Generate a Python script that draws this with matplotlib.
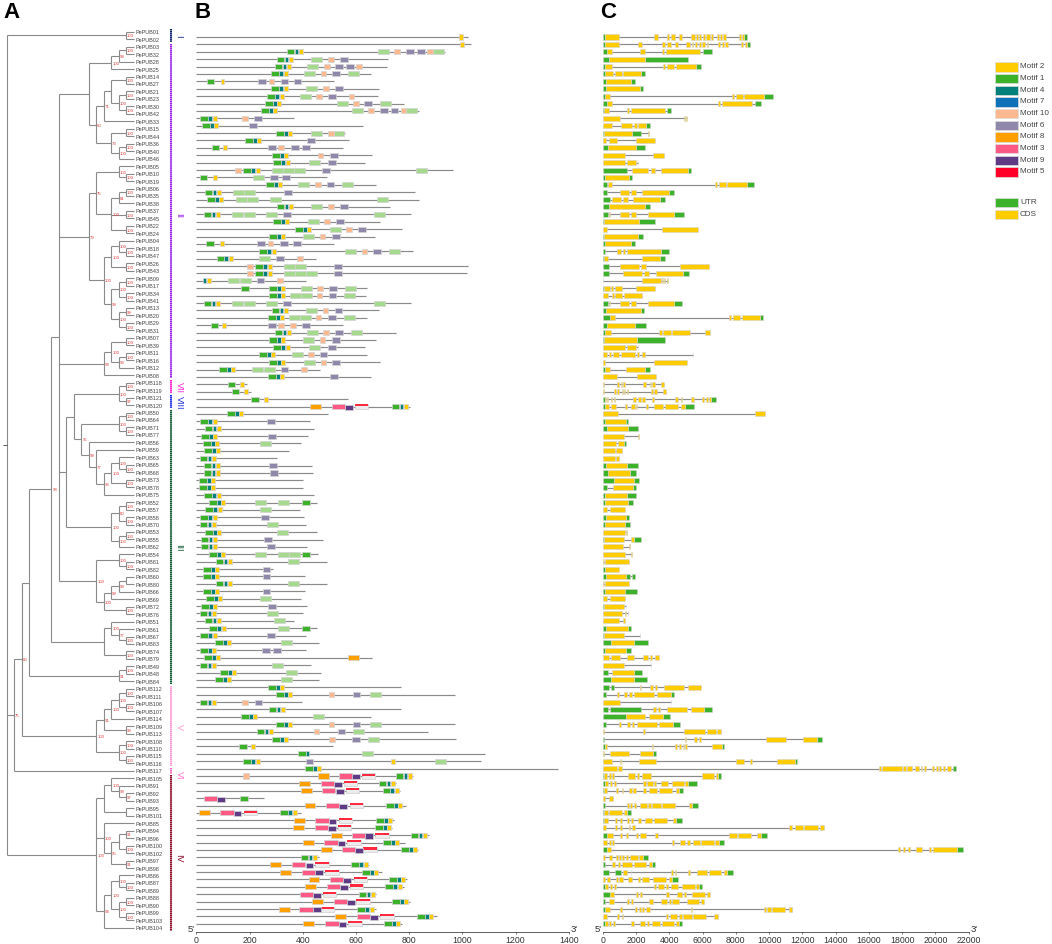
import matplotlib
matplotlib.use("Agg")
import matplotlib.pyplot as plt
import numpy as np

plt.rcParams['font.family'] = ['Liberation Sans', 'DejaVu Sans']

W, H = 1052, 945

# gene order, top to bottom
gene_ids = [1, 2, 3, 32, 28, 25, 14, 27, 21, 23, 30, 42, 33, 15, 44, 36, 40, 46, 5, 10, 19, 6, 35, 38, 37, 45, 22, 24, 4, 18,
            47, 26, 43, 9, 17, 34, 41, 13, 20, 29, 31, 7, 39, 11, 16, 12, 8, 118, 119, 121, 120, 50, 64, 71, 77, 56, 59, 63, 65, 68,
            73, 78, 75, 52, 57, 58, 70, 53, 55, 62, 54, 81, 82, 60, 80, 66, 69, 72, 76, 51, 61, 67, 83, 74, 79, 49, 48, 84, 112, 111,
            106, 107, 114, 109, 113, 108, 110, 115, 116, 117, 105, 91, 92, 93, 95, 101, 85, 94, 96, 100, 102, 97, 98, 86, 87, 89, 88, 90, 99, 103, 104]

# tree as (depth, support, children...), a plain int is a leaf
tree = (0, '',
        (16, '100', 1, 2),
        (1, '75',
         (2, '80',
          (3, '',
           (6, '98',
            (7, '',
             (11, '',
              (14, '100', (15, '99', (16, '100', 3, 32), 28), 25),
              (12, '60',
               (13, '71', (14, '', (16, '100', 14, 27), (15, '100', (16, '100', 21, 23), (16, '100', 30, 42))), 33),
               (14, '73', (16, '100', 15, 44), (15, '100', (16, '100', 36, 40), 46)))),
             (11, '79',
              (12, '75',
               (15, '100', 5, (16, '100', 10, 19)),
               (14, '100', (15, '81', (16, '100', 6, 35), 38), (16, '100', 37, 45), (16, '100', 22, 24))),
              (13, '100',
               (14, '100', (15, '100', 4, (16, '100', 18, 47)), (16, '100', 26, 43)),
               (14, '99', (15, '100', (16, '100', 9, 17), (16, '100', 34, 41)), (15, '100', (16, '99', 13, 20), (16, '100', 29, 31))))),
             (13, '98', (14, '100', (16, '100', 7, 39), (15, '93', (16, '100', 11, 16), 12)), 8),
             (8, '',
              (9, '',
               (15, '100', (16, '100', 118, 119), (16, '97', 121, 120)),
               (10, '95',
                (15, '100', (16, '100', 50, 64), (16, '100', 71, 77)),
                (11, '99', 56,
                 (12, '77', 59,
                  (13, '93', (14, '100', (15, '100', 63, (16, '100', 65, 68)), (16, '100', 73, 78)), 75))))),
              (14, '100', (15, '80', (16, '100', 52, 57), (16, '100', 58, 70)), (15, '100', (16, '100', 53, 55), 62))),
             (12, '100',
              (15, '100', 54, (16, '100', 81, 82)),
              (13, '100', (14, '99', (15, '99', (16, '', 60, 80), 66), 69), (16, '100', 72, 76)))),
            (13, '', (14, '100', 51, (15, '77', 61, (16, '100', 67, 83))), (16, '100', 74, 79))),
           (15, '91', (16, '100', 49, 48), 84)),
          (12, '100',
           (13, '91', (14, '100', (15, '100', (16, '100', 112, 111), (16, '100', 106, 107)), 114), (16, '99', 109, 113)),
           (15, '100', (16, '100', 108, 110), (16, '100', 115, 116)))),
         117),
        (12, '100',
         (13, '', (14, '100', 105, (15, '99', 91, (16, '97', 92, 93))), (16, '', 95, 101)),
         (13, '100', 85, (14, '95', (15, '', (16, '91', 94, 96), (16, '100', 100, 102)), (16, '91', 97, 98))),
         (13, '94', (14, '100', (15, '100', 86, (16, '100', 87, 89)), (15, '100', (16, '100', 88, 90), (16, '100', 99, 103))), 104)))

# subfamily bars: name, first row, last row, colour
clade_names = ['I', 'II', 'VII', 'VIII', 'III', 'V', 'VI', 'IV']
clade_first = [0, 2, 47, 49, 51, 88, 99, 100]
clade_last = [1, 46, 48, 50, 87, 98, 99, 120]
clade_colors = ['#0b1f6b', '#9a22e6', '#ff22d0', '#1f2fe8', '#0b5a32', '#ff9ad8', '#ff70c8', '#8c0a22']
clade_label_rows = [0.5, 24.5, 47.5, 49.5, 69, 93, 99.5, 110.5]

# panel B, protein length in aa
protein_len = [1020, 1034, 936, 722, 716, 657, 518, 685, 682, 782, 836, 367, 628, 558, 573, 551, 662, 633, 964, 490,
               677, 823, 836, 729, 809, 690, 775, 670, 516, 815, 449, 1020, 1019, 412, 640, 639, 809, 685, 640, 553,
               749, 675, 633, 642, 690, 464, 657, 192, 207, 571, 805, 495, 429, 443, 421, 393, 348, 305, 436, 439,
               403, 403, 443, 453, 389, 406, 413, 453, 475, 416, 459, 492, 288, 409, 492, 409, 392, 418, 401, 368,
               453, 413, 461, 412, 661, 433, 470, 461, 768, 972, 399, 771, 656, 972, 871, 978, 515, 1086, 1069, 1360,
               813, 751, 767, 254, 790, 392, 743, 734, 875, 784, 835, 463, 650, 699, 791, 780, 676, 804, 676, 905, 775]

# motif starts per gene: B = motif 1 + 4 + 2 run, g 1, t 4, y 2, l pale green, p 10, v 6, o 8, r 3, u 9, w 5
motif_hits = [
    'y987', 'y990', 'B340 l684 p745 v789 v829 p868 l889', 'B302 l432 p495 v540', 'B295 l418 p480 v523 v563 p601',
    'B282 l406 p467 v511 l570', 'g39 y91 v233 p272 v317 v366', 'B282 l412 p476 v521', 'B267 l391 p451 v495 p573',
    'B258 l528 p590 v632 l691', 'B243 l586 p646 v691 v731 p769 l790', 'B15 p173 v217', 'B22 v198', 'B300 l432 p495 l516',
    'B184 v416', 'g58 y101 v269 p309 v356 v399', 'B284 p457 v502', 'B290 l423 v495',
    'p146 B177 l284 l327 l369 v473 l825', 'g13 y63 l213 v278 v322', 'B262 l384 p446 v490 l548',
    'B31 l139 l180 v329', 'B41 l149 l192 l277 l681', 'B302 l432 p495 v540', 'B28 l136 l178 l262 v327 l669',
    'B288 l419 p481 v526', 'B371 l502 p563 v608', 'B273 l402 p464 v510', 'g38 y90 v230 p268 v314 v363',
    'B237 l560 p622 v665 l724', 'B76 l237 v300 p379', 'p192 B222 l329 l371 v517', 'p192 B222 l329 l371 l414 v517',
    't24 y41 l121 l163 v227 p305', 'g169 B274 l394 p454 v500 l558', 'B274 l352 l393 p453 v498 l556',
    'B28 l136 l178 l262 v327 l669', 'B283 l412 p475 v520', 'B269 l349 l391 p449 v495 l555',
    'g54 y98 v269 p309 p352 v399', 'B295 l417 p477 v521 l581', 'B273 l402 p464 v511', 'B290 l423 v495',
    'B235 l361 p421 v464', 'B273 l404 p468 v512', 'B85 l210 l253 v317 p394', 'B269 v502', 'g118 y164', 'g133 y179',
    'g207 y253', 'o428 r510 u560 w597 B734', 'B116', 'B15 v267', 'B31', 'B18 v269', 'B26 l239', 'B29', 'B13',
    'B28 v273', 'B28 v277', 'B10', 'B10', 'B30', 'B48 l220 l307 g399', 'B34 l238', 'B15 v243', 'B13 l267', 'B33 l303',
    'B16 v254', 'B16 v267', 'B48 l220 l307 l349 g399', 'B73 l344', 'B25 v249', 'B25 v249', 'B73 l344', 'B25 v249',
    'B36 l239', 'B18 v269', 'B13 l267', 'B31 l293', 'B49 l308 g399', 'B15 v267', 'B71 l319', 'B14 v248 v290',
    'B29 o570', 'B13 l284', 'B90 l337', 'B71 l319', 'B269', 'B299 p498 v588 l652', 'B13 p173 v219', 'B272',
    'B169 l439', 'B299 p498 v588 l652', 'B227 p442 v531 l590', 'B284 p499 v587 l645', 'g160 y207', 'g382 t411 l623',
    'B177 v411 y731 l898', 'B409', 'p177 o456 r536 u586 w623 B749', 'o386 r467 u517 w555 B686', 'o393 r473 u525 w561 B700',
    'r28 u78 g164', 'o407 r488 u538 w576 B714', 'o10 r90 u140 w178 B316', 'o367 r447 u497 w536 B675',
    'o364 r446 u495 w533 B672', 'o505 r585 u635 w673 B806', 'o401 r481 u531 w568 B702', 'o468 r547 u597 w628 B769',
    'B392', 'o277 r358 u411 w447 B583', 'o314 r396 u446 w485 B623', 'o422 r502 u552 w591 B725', 'o409 r491 u540 w578 B711',
    'r389 u438 w477 B610', 'o434 r516 u566 w602 B736', 'o310 r387 u438 w468 B606', 'o523 r603 u653 w692 B830',
    'o403 r485 u535 w572 B705']

# panel C, exon and UTR segments in bp as flat start, end pairs
gene_utr = [
    [0, 140, 8500, 8660], [0, 120, 8660, 8880], [0, 260, 6020, 6540], [0, 400, 2540, 5120], [0, 120, 5600, 5900],
    [0, 140, 2300, 2520], [0, 180, 1700, 1960], [0, 200, 2240, 2440], [0, 120, 9700, 10240], [0, 240, 9160, 9540],
    [0, 80, 3860, 4120], [], [2600, 2820], [0, 80, 1760, 2300], [], [0, 340, 1980, 2520], [], [], [0, 1440, 5140, 5320],
    [0, 140, 1560, 1780], [0, 260, 8680, 9120], [0, 260, 4000, 4260], [0, 460, 3440, 3740], [0, 360, 2540, 2860],
    [0, 300, 4300, 4900], [0, 100, 2160, 3160], [], [0, 100, 2100, 2400], [0, 160, 1680, 1940], [0, 160, 3480, 4000],
    [0, 60, 3440, 3720], [0, 380], [0, 400, 4840, 5160], [], [0, 100], [], [0, 300, 4300, 4740], [0, 200, 2300, 2460],
    [0, 440, 9440, 9620], [0, 260, 1920, 2620], [0, 140], [0, 80, 2080, 3740], [], [], [], [0, 160, 2540, 2820], [], [], [],
    [0, 140, 6480, 6840], [0, 140, 4920, 5460], [], [0, 160, 1400, 1540], [0, 240, 1540, 2140], [], [1300, 1420], [], [],
    [0, 200, 1480, 2100], [0, 320, 1620, 1980], [0, 660, 1860, 2160], [0, 280, 1820, 2000], [0, 140, 1440, 2020],
    [0, 160, 1520, 1800], [], [0, 180, 1400, 1600], [0, 140, 1360, 1640], [], [0, 60, 1900, 2280], [], [], [], [0, 140],
    [0, 180, 1400, 1620, 1740, 1940], [], [0, 140, 1360, 2060], [], [0, 60], [], [], [0, 180, 1520, 1680], [0, 100],
    [0, 520, 1900, 2720], [0, 160, 1380, 1720], [], [], [0, 320, 1880, 2380], [0, 520, 1900, 2640], [0, 400, 520, 700],
    [0, 180, 4100, 4280], [], [0, 320, 440, 2300, 6080, 6580], [0, 1380, 3600, 4040], [0, 180, 4220, 4620], [],
    [0, 100, 12900, 13180], [0, 120, 7160, 7320], [3000, 3200], [11560, 11700], [21080, 21260], [0, 80, 6920, 7140],
    [0, 160, 5100, 5660], [0, 60, 4600, 4840], [], [0, 120, 5380, 5700], [0, 80, 1480, 1720], [0, 80, 4400, 4780], [],
    [0, 240, 9500, 9880], [7000, 7280], [0, 240, 21300, 21660], [2420, 2740], [0, 140, 2980, 3120],
    [0, 360, 720, 1080, 7480, 7840], [4180, 4540], [0, 160, 5760, 5940], [0, 460], [0, 120], [0, 160, 11360, 11400], [],
    [0, 160, 4560, 4760]]

gene_cds = [
    [140, 1000, 3080, 3300, 3840, 4000, 4100, 4360, 4580, 4760, 5320, 5540, 5600, 5740, 5800, 5900, 6020, 6140, 6200, 6440, 6520, 6640, 6860, 7000, 7080, 7200, 7260, 7440, 8200, 8300, 8380, 8500],
    [120, 960, 2140, 2340, 3560, 3720, 3840, 4080, 4340, 4520, 5020, 5240, 5360, 5440, 5540, 5660, 5780, 5900, 5960, 6120, 6240, 6340, 6960, 7080, 7200, 7300, 7380, 7520, 8300, 8420, 8540, 8660],
    [260, 580, 2240, 2520, 3580, 3680, 3820, 5860], [400, 2540], [120, 540, 3640, 3740, 3880, 4280, 4400, 5600],
    [140, 640, 760, 1140, 1240, 2300], [180, 1700], [200, 2240], [120, 420, 7780, 7880, 8000, 8440, 8520, 9700],
    [240, 560, 6940, 7060, 7180, 9000], [80, 380, 1460, 1580, 1720, 3740], [0, 1020, 4880, 4940, 5000, 5060],
    [0, 540, 1080, 1780, 1900, 2060, 2140, 2600], [80, 1760, 2740, 2760], [0, 180, 400, 840, 1980, 3120], [340, 1980],
    [0, 1320, 3000, 3660], [0, 1360, 1480, 1980, 2100, 2140], [1760, 2720, 2880, 3160, 3520, 5140], [140, 1560],
    [300, 560, 6780, 6880, 7000, 7400, 7500, 8680], [1060, 1580, 1700, 1980, 2380, 4000], [580, 1100, 1220, 1520, 1800, 3440],
    [360, 2540], [400, 440, 1040, 1580, 1680, 1980, 2700, 4300], [100, 2160], [0, 240, 3580, 5700], [100, 2100], [160, 1680],
    [840, 1120, 1240, 1360, 1460, 3480], [60, 320, 2380, 3440], [1040, 2180, 2320, 2620, 4660, 6360],
    [1220, 2340, 2500, 2800, 3220, 4840], [0, 40, 2380, 3480, 3560, 3620, 3700, 3760, 3860, 3920],
    [100, 440, 500, 620, 720, 1160, 2020, 3120], [0, 320, 580, 680, 760, 1180, 1280, 2340],
    [400, 440, 1060, 1580, 1700, 1980, 2720, 4300], [200, 2300], [440, 720, 7620, 7720, 7840, 8240, 8360, 9440], [260, 1920],
    [140, 520, 3400, 3540, 3640, 4080, 4160, 5240, 6160, 6440], [80, 2080], [0, 1360, 1460, 1980, 2100, 2140],
    [0, 240, 400, 500, 620, 1000, 1100, 1940, 2040, 2180, 2380, 2560, 5400, 5440], [0, 140, 3080, 5040], [160, 460, 1420, 2540],
    [0, 880, 2060, 3180], [0, 60, 880, 980, 1120, 1180, 1240, 1320, 2440, 2580, 2840, 2900, 2980, 3120, 3520, 3660],
    [0, 60, 700, 800, 880, 980, 1140, 1200, 1260, 1340, 1480, 1540, 2920, 3020, 3100, 3240, 3640, 3780],
    [140, 200, 260, 340, 480, 540, 680, 760, 1840, 1980, 2140, 2300, 2380, 2520, 2940, 3080, 4320, 4540, 4700, 4780, 5280, 5500, 5980, 6080, 6180, 6300, 6400, 6480],
    [140, 380, 480, 780, 1340, 1440, 1680, 1940, 1980, 2060, 2580, 2700, 3080, 3600, 3760, 4520, 4720, 4920], [0, 900, 9160, 9780],
    [160, 1400], [240, 1540], [0, 1260, 2140, 2180], [0, 780, 900, 1300], [0, 740, 800, 1140], [0, 740, 800, 1000], [200, 1480],
    [320, 1620], [660, 1860], [600, 1820], [140, 1440], [160, 1520], [0, 280, 440, 1340], [180, 1400], [140, 1360],
    [0, 1340, 1400, 1440], [60, 1280, 1720, 1900], [0, 1220, 1580, 1620], [0, 1320, 1680, 1740], [0, 60, 140, 1560], [140, 1000],
    [180, 1400], [0, 60, 140, 1560], [140, 1360], [0, 280, 440, 1340], [60, 1280, 1380, 1420], [0, 1140, 1340, 1380, 1500, 1540],
    [0, 1000, 1220, 1360], [180, 1520], [100, 1300, 2220, 2260], [520, 1900], [160, 1380],
    [0, 360, 480, 1020, 1480, 1900, 2440, 2720, 2840, 2940, 3160, 3400], [0, 1260, 2880, 2920], [560, 1880], [520, 1900],
    [2240, 2290, 2840, 3040, 3140, 3260, 3700, 4900, 5140, 5900], [880, 960, 1280, 1480, 1600, 1760, 1900, 3100, 3240, 4100],
    [0, 1060, 4080, 4120], [3040, 3220, 3300, 3420, 3880, 5060, 5320, 6080], [1380, 2560, 2800, 3600],
    [1000, 1100, 1440, 1620, 1740, 1900, 2080, 3260, 3400, 4220], [0, 60, 2440, 2560, 4900, 6140, 6280, 6820, 6900, 7120],
    [4940, 4980, 5460, 5660, 5780, 5900, 9840, 11040, 12060, 12900],
    [120, 240, 2940, 3020, 4340, 4460, 4560, 4700, 4820, 4900, 4960, 5080, 6560, 7160], [0, 60, 420, 1580, 2240, 3000],
    [0, 540, 1040, 1120, 2180, 3200, 8040, 8520, 8880, 8960, 10480, 11560],
    [0, 840, 940, 1180, 16600, 16700, 16800, 18000, 18080, 18240, 18320, 18580, 18760, 19040, 19120, 19200, 19300, 19440, 19780, 19920, 20020, 20160, 20240, 20360, 20480, 20600, 20720, 20960],
    [80, 240, 360, 480, 560, 680, 1520, 1940, 2080, 2200, 2360, 2900, 5960, 6680, 6800, 6920],
    [160, 320, 440, 560, 660, 800, 2440, 2580, 2680, 3000, 3100, 3220, 3520, 3900, 4140, 4900, 4940, 5100],
    [60, 280, 800, 940, 1140, 1240, 1580, 1740, 1840, 2020, 2420, 2580, 2780, 3240, 3380, 4140, 4420, 4600], [0, 120, 400, 640],
    [1480, 1580, 1640, 1740, 1880, 1980, 2220, 2640, 2720, 2880, 2940, 3480, 3560, 4340, 5180, 5380], [80, 300, 400, 1160, 1280, 1480],
    [80, 300, 720, 860, 1040, 1180, 1440, 1560, 1680, 1800, 2140, 2280, 2520, 2980, 3100, 3880, 4200, 4400],
    [0, 180, 720, 860, 1060, 1180, 1600, 1640, 1760, 1940, 11200, 11360, 11540, 12020, 12120, 12920, 13060, 13280],
    [240, 600, 1040, 1160, 1400, 1520, 2000, 2120, 2240, 2600, 3160, 3300, 7600, 8080, 8160, 8920, 9300, 9500],
    [0, 240, 380, 480, 580, 700, 4160, 4280, 4640, 4920, 5060, 5220, 5400, 5820, 5920, 6700, 6780, 7000],
    [240, 480, 17740, 17880, 18080, 18200, 18340, 18480, 18820, 19180, 19640, 19760, 19880, 21300],
    [0, 160, 400, 540, 780, 900, 980, 1100, 1180, 1280, 1400, 1520, 1660, 2100, 2200, 2420],
    [580, 760, 920, 1040, 1160, 1780, 1880, 2620, 2800, 2980],
    [1240, 1440, 1680, 1720, 4080, 4240, 4320, 4420, 5140, 5240, 5680, 6240, 6380, 7140, 7280, 7480],
    [0, 160, 280, 420, 800, 920, 1000, 1200, 1520, 1780, 2140, 2240, 2340, 2780, 3040, 3800, 3980, 4180],
    [160, 320, 460, 580, 660, 800, 3060, 3180, 3340, 3660, 3780, 3900, 4100, 4540, 4780, 5540, 5600, 5760],
    [460, 660, 2000, 2140, 2220, 2340, 3800, 4000, 4440, 4740, 4860, 5000, 5380, 6160, 6260, 6440],
    [400, 660, 1480, 1600, 1720, 1820, 2800, 3000, 3520, 3860, 4000, 4100, 4180, 4580, 5060, 5780, 5880, 6080],
    [160, 420, 1040, 1160, 1960, 2060, 2200, 2300, 2360, 2480, 2600, 2820, 5300, 5360, 9680, 9800, 9900, 10140, 10200, 10940, 11180, 11360],
    [0, 280, 880, 1000, 1140, 1240, 3800, 3920, 4040, 4480, 4560, 4760, 4820, 5340, 5420, 6200, 6700, 6920],
    [160, 300, 400, 520, 620, 740, 1720, 1880, 2220, 2520, 2660, 2800, 2980, 3440, 3540, 4280, 4380, 4560]]

legend_labels = ['Motif 2', 'Motif 1', 'Motif 4', 'Motif 7', 'Motif 10', 'Motif 6', 'Motif 8', 'Motif 3', 'Motif 9', 'Motif 5']
legend_colors = ['#ffcc00', '#3cb22a', '#00807a', '#0f72b8', '#fcb98f', '#9088ab', '#ffa000', '#ff5a85', '#5f3b85', '#ff0028']

# motif look: colour and width in aa
motif_color = {'g': '#3cb22a', 't': '#00807a', 'y': '#ffcc00', 'l': '#a4d98e', 'p': '#fcb98f', 'v': '#9088ab',
               'o': '#ffa000', 'r': '#ff5a85', 'u': '#5f3b85'}
motif_width = {'g': 29, 't': 14, 'y': 15, 'l': 41, 'p': 21, 'v': 29, 'o': 41, 'r': 50, 'u': 29, 'w': 50}
UTR_COLOR = '#3cb22a'
CDS_COLOR = '#ffcc00'
LINE_GRAY = '#8a8a8a'
EDGE_GRAY = '#d4d4d4'


def px_axes(fig, x0, y0, x1, y1):
    # axes from a pixel box, y counted from the top
    return fig.add_axes([x0 / W, 1 - y1 / H, (x1 - x0) / W, (y1 - y0) / H])


fig = plt.figure(figsize=(W / 100, H / 100), dpi=100)

# ---- A: tree
LABEL_TOP, LABEL_STEP = 32.7, 7.467
DEPTH_X0, DEPTH_STEP = 6.7, 7.46
ax_tree = px_axes(fig, 0, 0, 190, H)
ax_tree.set_xlim(0, 190)
ax_tree.set_ylim((H - LABEL_TOP) / LABEL_STEP, -LABEL_TOP / LABEL_STEP)
ax_tree.axis('off')
row_of = {g: i for i, g in enumerate(gene_ids)}


def depth_x(d):
    return DEPTH_X0 + DEPTH_STEP * d


def draw_node(node):
    # returns x, y of the node and draws the branches under it
    if isinstance(node, int):
        return depth_x(17), row_of[node]
    depth, support, *kids = node
    x = depth_x(depth)
    ys = []
    for kid in kids:
        kx, ky = draw_node(kid)
        ax_tree.hlines(ky, x, kx, color=LINE_GRAY, lw=0.8)
        ys.append(ky)
    y = (ys[0] + ys[-1]) / 2
    ax_tree.vlines(x, ys[0], ys[-1], color=LINE_GRAY, lw=0.8)
    if support:
        ax_tree.text(x + 1, y, support, color='#e03c3c', fontsize=3.1, va='center', ha='left')
    return x, y


root_x, root_y = draw_node(tree)
ax_tree.hlines(root_y, 2.7, root_x, color='#555555', lw=0.7)

for i, g in enumerate(gene_ids):
    ax_tree.text(135, i, f'PePUB{g:02d}', fontsize=3.95, color='#444444', va='center', ha='left')

for name, r0, r1, c, lr in zip(clade_names, clade_first, clade_last, clade_colors, clade_label_rows):
    ax_tree.vlines(170.7, r0 - 0.4, r1 + 0.4, color=c, lw=1.5, linestyles=[(0, (0.75, 0.22))])
    ax_tree.text(179, lr, name, color=c, fontsize=6.5, rotation=-90, ha='center', va='center')

# ---- B: motifs
ROW_TOP, ROW_STEP = 38.0, 7.39
AX_TOP, AX_BOTTOM = 30.0, 932.7
BAR_H = 0.68
row_ylim = ((AX_BOTTOM - ROW_TOP) / ROW_STEP, (AX_TOP - ROW_TOP) / ROW_STEP)
rows = np.arange(len(gene_ids))

ax_b = px_axes(fig, 196.3, AX_TOP, 568.7, AX_BOTTOM)
ax_b.set_xlim(0, 1400)
ax_b.set_ylim(*row_ylim)
ax_b.hlines(rows, 0, protein_len, color=LINE_GRAY, lw=0.85, zorder=1)

hits = {k: ([], []) for k in motif_width}
for r, text in enumerate(motif_hits):
    for tok in text.split():
        kind, start = tok[0], int(tok[1:])
        if kind == 'B':
            parts = [('g', start), ('t', start + 30), ('y', start + 46)]
        else:
            parts = [(kind, start)]
        for k, s in parts:
            hits[k][0].append(r)
            hits[k][1].append(s)

for k, (rr, ss) in hits.items():
    rr = np.array(rr)
    if k == 'w':
        # motif 5 is a red cap on a pale box
        ax_b.barh(rr, motif_width[k], left=ss, height=BAR_H, color='#ececec', edgecolor='#cfcfcf', lw=0.5, zorder=3)
        ax_b.barh(rr - BAR_H * 0.27, motif_width[k], left=ss, height=BAR_H * 0.42, color='#ff2a40', lw=0, zorder=4)
    else:
        off = 0.12 if k == 'u' else 0
        ax_b.barh(rr + off, motif_width[k], left=ss, height=BAR_H, color=motif_color[k], edgecolor=EDGE_GRAY, lw=0.5,
                  zorder=5 if k in 'uty' else 3)

# ---- C: gene structure
ax_c = px_axes(fig, 602.7, AX_TOP, 968.7, AX_BOTTOM)
ax_c.set_xlim(0, 22000)
ax_c.set_ylim(*row_ylim)
for r, (utr, cds) in enumerate(zip(gene_utr, gene_cds)):
    segs = utr + cds
    ax_c.hlines(r, min(segs), max(segs), color=LINE_GRAY, lw=0.85, zorder=1)
    for vals, col in ((utr, UTR_COLOR), (cds, CDS_COLOR)):
        if vals:
            st = np.array(vals[0::2])
            en = np.array(vals[1::2])
            ax_c.barh(np.full(len(st), r), en - st, left=st, height=BAR_H, color=col, edgecolor=EDGE_GRAY, lw=0.4, zorder=3)

# shared axis look
for ax, ticks in ((ax_b, range(0, 1401, 200)), (ax_c, range(0, 22001, 2000))):
    ax.patch.set_visible(False)
    for side in ('top', 'left', 'right'):
        ax.spines[side].set_visible(False)
    ax.spines['bottom'].set_color('#444444')
    ax.spines['bottom'].set_linewidth(0.6)
    ax.set_yticks([])
    ax.set_xticks(list(ticks))
    ax.tick_params(axis='x', length=1.5, width=0.5, pad=1.2, labelsize=6.3, labelcolor='#333333', color='#444444')
    ax.text(-0.004, 0.003, "5'", transform=ax.transAxes, fontsize=6.8, color='#333333', ha='right', va='center')
    ax.text(1.004, 0.003, "3'", transform=ax.transAxes, fontsize=6.8, color='#333333', ha='left', va='center')

# ---- legend
ax_leg = px_axes(fig, 990, 55, 1052, 230)
ax_leg.set_xlim(990, 1052)
ax_leg.set_ylim(230, 55)
ax_leg.axis('off')
for i, (lab, col) in enumerate(zip(legend_labels + ['UTR', 'CDS'], legend_colors + [UTR_COLOR, CDS_COLOR])):
    y = 68 + 11.67 * i + (19 if i >= 10 else 0)
    ax_leg.barh(y, 22.4, left=995.3, height=9.3, color=col, edgecolor='#dddddd', lw=0.5)
    ax_leg.text(1020, y - 1.3, lab, fontsize=5.9, color='#444444', va='center', ha='left')

# ---- panel letters
for letter, x in zip('ABC', (3.5, 194, 600)):
    fig.text(x / W, 1 - 12 / H, letter, fontsize=16, fontweight='bold', color='black', ha='left', va='center')

fig.savefig('out.png', dpi=100)
